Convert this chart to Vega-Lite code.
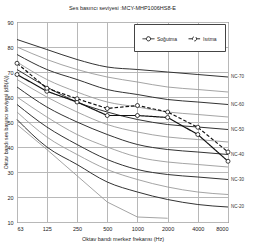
{
  "$schema": "https://vega.github.io/schema/vega-lite/v6.json",
  "autosize": {"type": "none"},
  "width": 211,
  "height": 200,
  "padding": {"left": 17, "top": 22, "right": 29, "bottom": 29},
  "config": {
    "font": "Liberation Sans",
    "view": {"stroke": "#333", "strokeWidth": 1},
    "axis": {"gridColor": "#b8b8b8", "gridWidth": 1, "domain": false, "ticks": false, "labelFontSize": 5.5, "labelColor": "#222", "titleFontSize": 5.5, "titleFontWeight": "normal", "titleColor": "#222"}
  },
  "title": {"text": "Ses basıncı seviyesi :MCY-MHP1006HS8-E", "fontSize": 5.5, "fontWeight": "normal", "color": "#222", "offset": 9},
  "datasets": {
    "nc": [
      {"level": 20, "f": 63, "v": 51}, {"level": 20, "f": 125, "v": 40}, {"level": 20, "f": 250, "v": 33}, {"level": 20, "f": 500, "v": 26}, {"level": 20, "f": 1000, "v": 22}, {"level": 20, "f": 2000, "v": 19}, {"level": 20, "f": 4000, "v": 17}, {"level": 20, "f": 8000, "v": 16},
      {"level": 25, "f": 63, "v": 54}, {"level": 25, "f": 125, "v": 44}, {"level": 25, "f": 250, "v": 37}, {"level": 25, "f": 500, "v": 31}, {"level": 25, "f": 1000, "v": 27}, {"level": 25, "f": 2000, "v": 24}, {"level": 25, "f": 4000, "v": 22}, {"level": 25, "f": 8000, "v": 21},
      {"level": 30, "f": 63, "v": 57}, {"level": 30, "f": 125, "v": 48}, {"level": 30, "f": 250, "v": 41}, {"level": 30, "f": 500, "v": 35}, {"level": 30, "f": 1000, "v": 31}, {"level": 30, "f": 2000, "v": 29}, {"level": 30, "f": 4000, "v": 28}, {"level": 30, "f": 8000, "v": 27},
      {"level": 35, "f": 63, "v": 60}, {"level": 35, "f": 125, "v": 52}, {"level": 35, "f": 250, "v": 45}, {"level": 35, "f": 500, "v": 40}, {"level": 35, "f": 1000, "v": 36}, {"level": 35, "f": 2000, "v": 34}, {"level": 35, "f": 4000, "v": 33}, {"level": 35, "f": 8000, "v": 32},
      {"level": 40, "f": 63, "v": 64}, {"level": 40, "f": 125, "v": 56}, {"level": 40, "f": 250, "v": 50}, {"level": 40, "f": 500, "v": 45}, {"level": 40, "f": 1000, "v": 41}, {"level": 40, "f": 2000, "v": 39}, {"level": 40, "f": 4000, "v": 38}, {"level": 40, "f": 8000, "v": 37},
      {"level": 45, "f": 63, "v": 67}, {"level": 45, "f": 125, "v": 60}, {"level": 45, "f": 250, "v": 54}, {"level": 45, "f": 500, "v": 49}, {"level": 45, "f": 1000, "v": 46}, {"level": 45, "f": 2000, "v": 44}, {"level": 45, "f": 4000, "v": 43}, {"level": 45, "f": 8000, "v": 42},
      {"level": 50, "f": 63, "v": 71}, {"level": 50, "f": 125, "v": 64}, {"level": 50, "f": 250, "v": 58}, {"level": 50, "f": 500, "v": 54}, {"level": 50, "f": 1000, "v": 51}, {"level": 50, "f": 2000, "v": 49}, {"level": 50, "f": 4000, "v": 48}, {"level": 50, "f": 8000, "v": 47},
      {"level": 55, "f": 63, "v": 74}, {"level": 55, "f": 125, "v": 67}, {"level": 55, "f": 250, "v": 62}, {"level": 55, "f": 500, "v": 58}, {"level": 55, "f": 1000, "v": 56}, {"level": 55, "f": 2000, "v": 54}, {"level": 55, "f": 4000, "v": 53}, {"level": 55, "f": 8000, "v": 52},
      {"level": 60, "f": 63, "v": 77}, {"level": 60, "f": 125, "v": 71}, {"level": 60, "f": 250, "v": 67}, {"level": 60, "f": 500, "v": 63}, {"level": 60, "f": 1000, "v": 61}, {"level": 60, "f": 2000, "v": 59}, {"level": 60, "f": 4000, "v": 58}, {"level": 60, "f": 8000, "v": 57},
      {"level": 65, "f": 63, "v": 80}, {"level": 65, "f": 125, "v": 75}, {"level": 65, "f": 250, "v": 71}, {"level": 65, "f": 500, "v": 68}, {"level": 65, "f": 1000, "v": 66}, {"level": 65, "f": 2000, "v": 64}, {"level": 65, "f": 4000, "v": 63}, {"level": 65, "f": 8000, "v": 62},
      {"level": 70, "f": 63, "v": 83}, {"level": 70, "f": 125, "v": 79}, {"level": 70, "f": 250, "v": 75}, {"level": 70, "f": 500, "v": 72}, {"level": 70, "f": 1000, "v": 71}, {"level": 70, "f": 2000, "v": 70}, {"level": 70, "f": 4000, "v": 69}, {"level": 70, "f": 8000, "v": 68}
    ],
    "thr": [
      {"f": 63, "v": 49}, {"f": 125, "v": 39}, {"f": 250, "v": 28.5}, {"f": 500, "v": 18}, {"f": 1000, "v": 12}, {"f": 2000, "v": 11.5}
    ],
    "meas": [
      {"s": "Soğutma", "f": 63, "v": 69}, {"s": "Soğutma", "f": 125, "v": 62.3}, {"s": "Soğutma", "f": 250, "v": 58}, {"s": "Soğutma", "f": 500, "v": 52.6}, {"s": "Soğutma", "f": 1000, "v": 52.6}, {"s": "Soğutma", "f": 2000, "v": 51.8}, {"s": "Soğutma", "f": 4000, "v": 45}, {"s": "Soğutma", "f": 8000, "v": 34.3},
      {"s": "Isıtma", "f": 63, "v": 73.5}, {"s": "Isıtma", "f": 125, "v": 63.5}, {"s": "Isıtma", "f": 250, "v": 59.3}, {"s": "Isıtma", "f": 500, "v": 55.4}, {"s": "Isıtma", "f": 1000, "v": 56.6}, {"s": "Isıtma", "f": 2000, "v": 54}, {"s": "Isıtma", "f": 4000, "v": 47.9}, {"s": "Isıtma", "f": 8000, "v": 38}
    ],
    "labels": [
      {"lab": "NC-70", "f": 8000, "v": 68}, {"lab": "NC-60", "f": 8000, "v": 57}, {"lab": "NC-50", "f": 8000, "v": 47},
      {"lab": "NC-40", "f": 8000, "v": 37}, {"lab": "NC-30", "f": 8000, "v": 27}, {"lab": "NC-20", "f": 8000, "v": 16}
    ]
  },
  "encoding": {
    "x": {"field": "f", "type": "quantitative", "scale": {"type": "log", "base": 2, "domain": [63, 8000], "nice": false},
      "axis": {"values": [63, 125, 250, 500, 1000, 2000, 4000, 8000], "format": "d", "title": "Oktav bandı merkez frekansı (Hz)", "labelPadding": 4, "titlePadding": 5}},
    "y": {"field": "v", "type": "quantitative", "scale": {"domain": [10, 90], "nice": false},
      "axis": {"values": [10, 20, 30, 40, 50, 60, 70, 80, 90], "title": "Oktav bandı ses basıncı seviyesi (dB(A))", "labelPadding": 4, "titleX": -12, "titleBaseline": "middle", "titleFontSize": 5.2}}
  },
  "layer": [
    {
      "data": {"name": "nc"},
      "transform": [{"filter": "datum.level % 10 != 0"}],
      "mark": {"type": "line", "color": "#9a9a9a", "strokeWidth": 0.9, "interpolate": "monotone"},
      "encoding": {"detail": {"field": "level"}}
    },
    {
      "data": {"name": "nc"},
      "transform": [{"filter": "datum.level % 10 == 0"}],
      "mark": {"type": "line", "color": "#333", "strokeWidth": 1, "interpolate": "monotone"},
      "encoding": {"detail": {"field": "level"}}
    },
    {
      "data": {"name": "thr"},
      "mark": {"type": "line", "color": "#9a9a9a", "strokeWidth": 0.9},
      "encoding": {}
    },
    {
      "data": {"values": [{}]},
      "mark": {"type": "rect", "fill": "white"},
      "encoding": {"x": {"datum": 63}, "x2": {"datum": 320}, "y": {"datum": 14}, "y2": {"datum": 20.6}}
    },
    {
      "data": {"values": [{}]},
      "mark": {"type": "text", "text": ["Sürekli beyaz gürültünün", "işitilebilirlik sınırları"], "align": "left", "baseline": "top", "fontSize": 4.8, "lineHeight": 5.8, "dx": 6, "color": "#222"},
      "encoding": {"x": {"datum": 63}, "y": {"datum": 19.6}}
    },
    {
      "data": {"name": "meas"},
      "mark": {"type": "line", "color": "#111", "strokeWidth": 1.2},
      "encoding": {
        "strokeDash": {"field": "s", "type": "nominal", "scale": {"domain": ["Soğutma", "Isıtma"], "range": [[1, 0], [3.5, 2]]},
          "legend": {"orient": "none", "legendX": 117, "legendY": 2, "direction": "horizontal", "title": null, "fillColor": "white", "strokeColor": "#444", "padding": 8, "labelFontSize": 5, "labelColor": "#222", "symbolType": "M-1,0L-0.35,0M0.35,0L1,0M0.35,0A0.35,0.35,0,1,1,-0.35,0A0.35,0.35,0,1,1,0.35,0", "symbolSize": 144, "symbolStrokeColor": "#111", "symbolFillColor": "white", "symbolStrokeWidth": 0.9, "columnPadding": 8, "labelOffset": 2}}
      }
    },
    {
      "data": {"name": "meas"},
      "mark": {"type": "point", "shape": "circle", "filled": false, "fill": "white", "fillOpacity": 1, "stroke": "#111", "strokeWidth": 0.8, "size": 16, "opacity": 1},
      "encoding": {"detail": {"field": "s"}}
    },
    {
      "data": {"name": "labels"},
      "mark": {"type": "text", "align": "left", "baseline": "middle", "dx": 3, "fontSize": 4.5, "color": "#333"},
      "encoding": {"text": {"field": "lab"}}
    }
  ]
}
